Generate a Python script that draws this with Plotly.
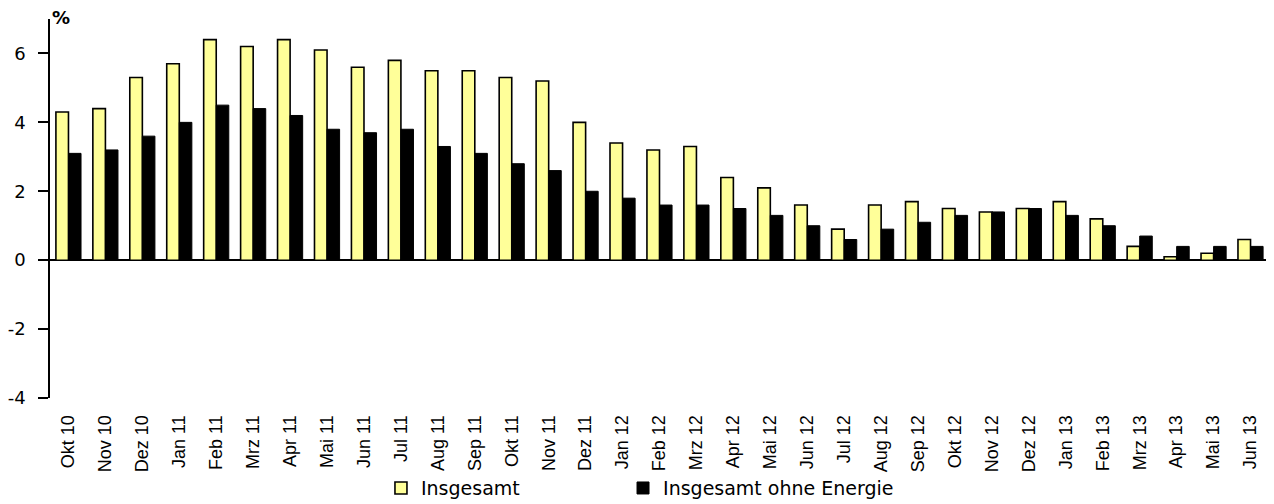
import plotly.graph_objects as go

categories = ["Okt 10", "Nov 10", "Dez 10", "Jan 11", "Feb 11", "Mrz 11", "Apr 11", "Mai 11",
              "Jun 11", "Jul 11", "Aug 11", "Sep 11", "Okt 11", "Nov 11", "Dez 11", "Jan 12",
              "Feb 12", "Mrz 12", "Apr 12", "Mai 12", "Jun 12", "Jul 12", "Aug 12", "Sep 12",
              "Okt 12", "Nov 12", "Dez 12", "Jan 13", "Feb 13", "Mrz 13", "Apr 13", "Mai 13", "Jun 13"]

insgesamt = [4.3, 4.4, 5.3, 5.7, 6.4, 6.2, 6.4, 6.1, 5.6, 5.8, 5.5, 5.5, 5.3, 5.2, 4.0, 3.4,
             3.2, 3.3, 2.4, 2.1, 1.6, 0.9, 1.6, 1.7, 1.5, 1.4, 1.5, 1.7, 1.2, 0.4, 0.1, 0.2, 0.6]

ohne_energie = [3.1, 3.2, 3.6, 4.0, 4.5, 4.4, 4.2, 3.8, 3.7, 3.8, 3.3, 3.1, 2.8, 2.6, 2.0, 1.8,
                1.6, 1.6, 1.5, 1.3, 1.0, 0.6, 0.9, 1.1, 1.3, 1.4, 1.5, 1.3, 1.0, 0.7, 0.4, 0.4, 0.4]

y_ticks = [-4, -2, 0, 2, 4, 6]
y_tick_text = ["-4", "-2", "0", "2", "4", "6"]

FONT = "DejaVu Sans"

fig = go.Figure()
fig.add_trace(go.Bar(x=categories, y=insgesamt, name="Insgesamt", legend="legend",
                     showlegend=True,
                     marker=dict(color="#FFFF99", line=dict(color="black", width=1.6))))
fig.add_trace(go.Bar(x=categories, y=ohne_energie, name="Insgesamt ohne Energie",
                     legend="legend2", showlegend=True,
                     marker=dict(color="black", line=dict(color="black", width=1))))

leg_common = dict(orientation="h", xref="container", yref="container", xanchor="left",
                  y=0.032, yanchor="middle", font=dict(family=FONT, size=19),
                  bgcolor="rgba(0,0,0,0)", visible=True)

# page is offset by the default 8px body margin, so the figure is sized to fit
fig.update_layout(
    width=1266, height=496,
    margin=dict(l=42, r=5, t=11, b=106),
    paper_bgcolor="white", plot_bgcolor="white",
    showlegend=True,
    barmode="group", bargap=0.32, bargroupgap=0,
    font=dict(family=FONT, size=16, color="black"),
    legend=dict(x=0.2946, **leg_common),
    legend2=dict(x=0.4858, **leg_common),
    annotations=[dict(text="<b>%</b>", xref="paper", yref="paper", x=0, y=1.004,
                      xanchor="left", yanchor="middle", showarrow=False, xshift=0,
                      font=dict(family=FONT, size=18))],
)
fig.update_xaxes(type="category", tickangle=-90, showline=False, ticks="outside",
                 ticklen=9, tickcolor="rgba(0,0,0,0)", automargin=False,
                 showgrid=False, tickfont=dict(family="Liberation Sans", size=18),
                 zeroline=False)
fig.update_yaxes(range=[-4, 7], tickvals=y_ticks, ticktext=y_tick_text, showline=True,
                 linecolor="black", automargin=False,
                 linewidth=1.5, ticks="outside", ticklen=10, tickcolor="black", tickwidth=1.5,
                 ticklabelstandoff=9,
                 showgrid=False, zeroline=True, zerolinecolor="black", zerolinewidth=1.5,
                 tickfont=dict(size=18))

fig.write_html("out.html")
